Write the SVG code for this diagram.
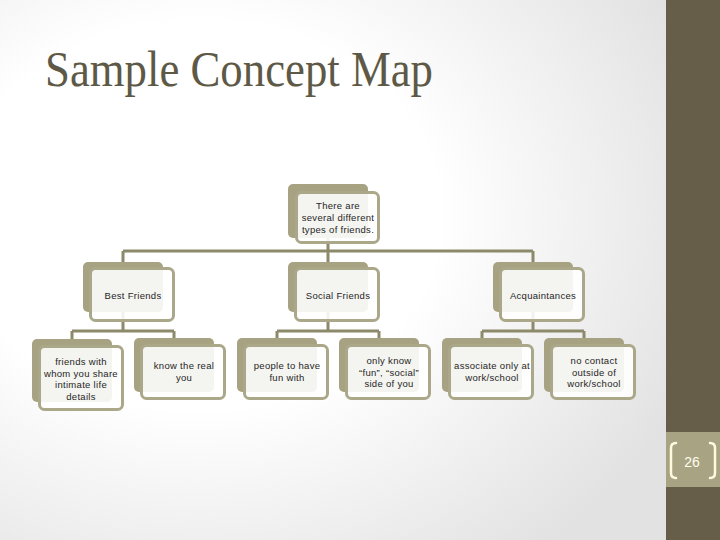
<svg xmlns="http://www.w3.org/2000/svg" width="720" height="540" viewBox="0 0 720 540">
  <defs>
    <radialGradient id="bg" cx="0.3" cy="0.4" r="0.8">
      <stop offset="0.45" stop-color="#FFFFFF"/>
      <stop offset="1" stop-color="#E2E2E2"/>
    </radialGradient>
  </defs>
  <style>
    .back { fill: #A7A382; }
    .front { fill: #FFFFFF; fill-opacity: 0.88; stroke: #ABA789; stroke-width: 3; }
    .conn { fill: none; stroke: #8C8A6B; stroke-width: 3; }
    .lbl { font-family: "Liberation Sans", Arial, sans-serif; font-size: 9.5px; letter-spacing: 0.3px; fill: #262626; text-anchor: middle; }
    .title { font-family: "Liberation Serif", "Times New Roman", serif; font-size: 50px; fill: #5E5946; }
    .brk { fill: none; stroke: #FFF9E0; stroke-width: 2.5; stroke-linecap: round; }
  </style>

  <rect x="0" y="0" width="666" height="540" fill="url(#bg)"/>
  <rect x="666" y="0" width="54" height="540" fill="#665E48"/>
  <rect x="666" y="432" width="54" height="55" fill="#A8A382"/>
  <path class="brk" d="M676,443 Q671,443 671,448 L671,473 Q671,478 676,478"/>
  <path class="brk" d="M710,443 Q715,443 715,448 L715,473 Q715,478 710,478"/>
  <text x="692" y="467" font-family="'Liberation Sans', Arial, sans-serif" font-size="14" fill="#FFFDF0" text-anchor="middle">26</text>

  <text class="title" x="45" y="86" textLength="388" lengthAdjust="spacingAndGlyphs">Sample Concept Map</text>

  <g id="connectors">
    <path class="conn" d="M328,238 L328,251 M123,251 L533,251 M123,251 L123,262 M328,251 L328,262 M533,251 L533,262"/>
    <path class="conn" d="M123,312 L123,331 M72,331 L174,331 M72,331 L72,339 M174,331 L174,338"/>
    <path class="conn" d="M328,312 L328,331 M277,331 L379,331 M277,331 L277,338 M379,331 L379,338"/>
    <path class="conn" d="M533,312 L533,331 M482,331 L584,331 M482,331 L482,338 M584,331 L584,338"/>
  </g>

  <g id="node-root">
    <rect class="back" x="288" y="184" width="80" height="54" rx="5"/>
    <rect class="front" x="296.5" y="192.5" width="82" height="50" rx="5"/>
    <text class="lbl" x="338" y="208.5">There are</text>
    <text class="lbl" x="338" y="220.5">several different</text>
    <text class="lbl" x="338" y="232.5">types of friends.</text>
  </g>

  <g id="node-best-friends">
    <rect class="back" x="83" y="262" width="80" height="50" rx="5"/>
    <rect class="front" x="90.5" y="268.5" width="83" height="52" rx="5"/>
    <text class="lbl" x="133" y="299">Best Friends</text>
  </g>

  <g id="node-social-friends">
    <rect class="back" x="288" y="262" width="80" height="50" rx="5"/>
    <rect class="front" x="295.5" y="268.5" width="83" height="52" rx="5"/>
    <text class="lbl" x="338" y="299">Social Friends</text>
  </g>

  <g id="node-acquaintances">
    <rect class="back" x="493" y="262" width="80" height="50" rx="5"/>
    <rect class="front" x="500.5" y="268.5" width="83" height="52" rx="5"/>
    <text class="lbl" x="543" y="299">Acquaintances</text>
  </g>

  <g id="node-share-details">
    <rect class="back" x="32" y="339" width="80" height="63" rx="5"/>
    <rect class="front" x="39.5" y="346.5" width="83" height="63" rx="5"/>
    <text class="lbl" x="81" y="365">friends with</text>
    <text class="lbl" x="81" y="376.5">whom you share</text>
    <text class="lbl" x="81" y="388">intimate life</text>
    <text class="lbl" x="81" y="399.5">details</text>
  </g>

  <g id="node-know-real">
    <rect class="back" x="134" y="338" width="80" height="54" rx="5"/>
    <rect class="front" x="141.5" y="345.5" width="83" height="53" rx="5"/>
    <text class="lbl" x="184" y="369">know the real</text>
    <text class="lbl" x="184" y="381">you</text>
  </g>

  <g id="node-fun-with">
    <rect class="back" x="237" y="338" width="80" height="54" rx="5"/>
    <rect class="front" x="244.5" y="345.5" width="83" height="53" rx="5"/>
    <text class="lbl" x="287" y="369">people to have</text>
    <text class="lbl" x="287" y="381">fun with</text>
  </g>

  <g id="node-social-side">
    <rect class="back" x="339" y="338" width="80" height="54" rx="5"/>
    <rect class="front" x="346.5" y="345.5" width="83" height="53" rx="5"/>
    <text class="lbl" x="389" y="364">only know</text>
    <text class="lbl" x="389" y="375.5">“fun”, “social”</text>
    <text class="lbl" x="389" y="387">side of you</text>
  </g>

  <g id="node-work-school">
    <rect class="back" x="442" y="338" width="80" height="54" rx="5"/>
    <rect class="front" x="449.5" y="345.5" width="83" height="53" rx="5"/>
    <text class="lbl" x="492" y="369">associate only at</text>
    <text class="lbl" x="492" y="381">work/school</text>
  </g>

  <g id="node-no-contact">
    <rect class="back" x="544" y="338" width="80" height="54" rx="5"/>
    <rect class="front" x="551.5" y="345.5" width="83" height="53" rx="5"/>
    <text class="lbl" x="594" y="364">no contact</text>
    <text class="lbl" x="594" y="375.5">outside of</text>
    <text class="lbl" x="594" y="387">work/school</text>
  </g>
</svg>
